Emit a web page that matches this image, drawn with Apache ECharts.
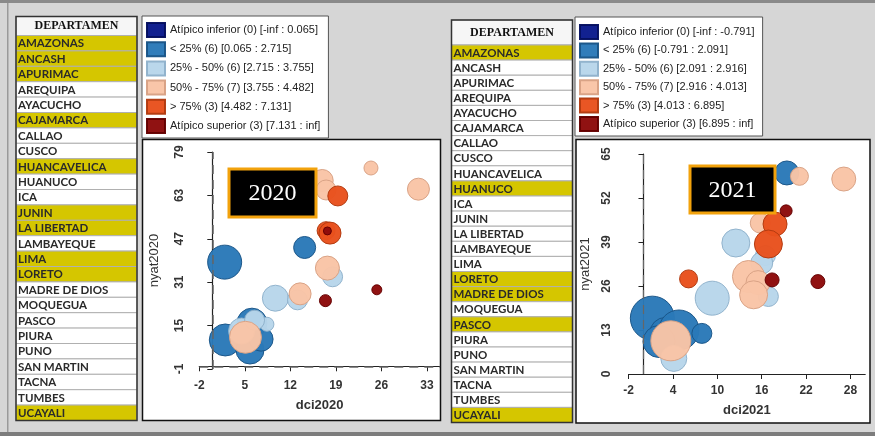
<!DOCTYPE html>
<html>
<head>
<meta charset="utf-8">
<script src="https://cdn.jsdelivr.net/npm/echarts@6/dist/echarts.min.js"></script>
<style>
  body { margin: 0; background: #d6d6d6; }
  #main { width: 875px; height: 436px; }
</style>
</head>
<body>
<div id="main"></div>
<script>
  // departamentos (tabla de la izquierda de cada panel)
  var departamentos = ['AMAZONAS', 'ANCASH', 'APURIMAC', 'AREQUIPA', 'AYACUCHO', 'CAJAMARCA', 'CALLAO',
    'CUSCO', 'HUANCAVELICA', 'HUANUCO', 'ICA', 'JUNIN', 'LA LIBERTAD', 'LAMBAYEQUE', 'LIMA', 'LORETO',
    'MADRE DE DIOS', 'MOQUEGUA', 'PASCO', 'PIURA', 'PUNO', 'SAN MARTIN', 'TACNA', 'TUMBES', 'UCAYALI'];
  var resaltados2020 = ['AMAZONAS', 'ANCASH', 'APURIMAC', 'CAJAMARCA', 'HUANCAVELICA', 'JUNIN',
    'LA LIBERTAD', 'LIMA', 'LORETO', 'UCAYALI'];
  var resaltados2021 = ['AMAZONAS', 'HUANUCO', 'LORETO', 'MADRE DE DIOS', 'PASCO', 'UCAYALI'];

  // clases del mapa de cajas
  var clases2020 = ['Atípico inferior (0) [-inf : 0.065]', '< 25% (6) [0.065 : 2.715]',
    '25% - 50% (6) [2.715 : 3.755]', '50% - 75% (7) [3.755 : 4.482]',
    '> 75% (3) [4.482 : 7.131]', 'Atípico superior (3) [7.131 : inf]'];
  var clases2021 = ['Atípico inferior (0) [-inf : -0.791]', '< 25% (6) [-0.791 : 2.091]',
    '25% - 50% (6) [2.091 : 2.916]', '50% - 75% (7) [2.916 : 4.013]',
    '> 75% (3) [4.013 : 6.895]', 'Atípico superior (3) [6.895 : inf]'];

  // puntos: [dci, nyat, peso]
  var atipInf2020 = [];
  var menos25_2020 = [[1.9, 38.4, 17], [14.2, 43.8, 11], [2.0, 9.7, 16], [6.1, 15.9, 15], [5.8, 6.0, 14], [7.5, 10.0, 12]];
  var q25_50_2020 = [[18.5, 33.0, 10], [9.7, 25.1, 13], [13.1, 24.5, 10], [8.4, 15.5, 7], [4.5, 13.0, 13], [6.5, 17.0, 10]];
  var q50_75_2020 = [[24.4, 73.1, 7], [31.7, 65.3, 11], [16.9, 68.5, 11], [17.5, 65.0, 10], [17.7, 36.2, 12], [13.5, 26.7, 11], [5.1, 10.7, 16]];
  var mas75_2020 = [[19.3, 62.8, 10], [17.5, 50.0, 9], [18.1, 49.1, 11]];
  var atipSup2020 = [[17.7, 49.9, 4], [25.3, 28.2, 5], [17.4, 24.2, 6]];

  var atipInf2021 = [];
  var menos25_2021 = [[19.4, 59.4, 12], [1.2, 16.5, 22], [3.0, 12.0, 16], [4.8, 13.0, 20], [7.9, 12.0, 10], [2.1, 9.6, 16]];
  var q25_50_2021 = [[12.5, 38.7, 14], [16.5, 35.0, 10], [16.0, 32.8, 11], [16.9, 22.9, 10], [9.3, 22.4, 17], [4.1, 4.6, 13]];
  var q50_75_2021 = [[21.1, 58.4, 9], [27.1, 57.6, 12], [15.8, 44.6, 10], [14.2, 28.8, 16], [15.5, 27.0, 12], [14.9, 23.4, 14], [3.7, 9.8, 20]];
  var mas75_2021 = [[17.8, 44.3, 12], [16.9, 38.4, 14], [6.1, 28.1, 9]];
  var atipSup2021 = [[19.3, 48.2, 6], [17.4, 27.8, 7], [23.6, 27.3, 7]];

  // ticks
  var ticksX2020 = [-2, 5, 12, 19, 26, 33];
  var ticksY2020 = [-1, 15, 31, 47, 63, 79];
  var ticksX2021 = [-2, 4, 10, 16, 22, 28];
  var ticksY2021 = [0, 13, 26, 39, 52, 65];

  var colores = ['#0a1a8c', '#2a79b8', '#b8d6ea', '#f9c4a6', '#e8511d', '#8c0a0a'];
  var bordes = ['#051060', '#1a5587', '#8fb2cb', '#d8a184', '#b23a10', '#640000'];

  var chart = echarts.init(document.getElementById('main'));

  function tabla(x, top, headH, rowH, resaltados) {
    var els = [];
    var w = 121;
    els.push({type: 'rect', shape: {x: x, y: top, width: w, height: headH},
      style: {fill: '#f6f6f6', stroke: '#999', lineWidth: 1}});
    els.push({type: 'text', x: x + w / 2, y: top + headH / 2,
      style: {text: 'DEPARTAMEN', font: 'bold 12px "Liberation Serif"', fill: '#111',
        textAlign: 'center', textVerticalAlign: 'middle'}});
    departamentos.forEach(function (d, i) {
      var y = top + headH + i * rowH;
      var on = resaltados.indexOf(d) >= 0;
      els.push({type: 'rect', shape: {x: x, y: y, width: w, height: rowH},
        style: {fill: on ? '#d5c600' : '#ffffff', stroke: '#b0b0b0', lineWidth: 1}});
      els.push({type: 'text', x: x + 2, y: y + rowH / 2 + 0.5,
        style: {text: d, font: 'bold 11.5px Lato', fill: '#2a2a2a', textVerticalAlign: 'middle'}});
    });
    els.push({type: 'rect', shape: {x: x, y: top, width: w, height: headH + 25 * rowH},
      style: {fill: 'none', stroke: '#333', lineWidth: 1.5}});
    return els;
  }

  function cajaAnio(x, y, w, h, txt) {
    return [
      {type: 'rect', z: 100, shape: {x: x, y: y, width: w, height: h},
        style: {fill: '#000', stroke: '#f2a20c', lineWidth: 3}},
      {type: 'text', z: 101, x: x + w / 2, y: y + h / 2 + 1,
        style: {text: txt, font: '24px "Liberation Serif"', fill: '#fff',
          textAlign: 'center', textVerticalAlign: 'middle'}}
    ];
  }

  function ejeX(grid, min, max, ticks, nombre, gap) {
    return {
      type: 'value', gridIndex: grid, min: min, max: max,
      name: nombre, nameLocation: 'middle', nameGap: gap,
      nameTextStyle: {fontSize: 13, fontWeight: 'bold', color: '#333', fontFamily: 'Liberation Sans'},
      axisLine: {lineStyle: {color: '#222', width: 1.2}},
      axisTick: {show: true, length: 5, customValues: ticks, lineStyle: {color: '#222'}},
      axisLabel: {customValues: ticks, fontSize: 12, fontWeight: 'bold', color: '#333',
        fontFamily: 'Liberation Sans', margin: 11},
      splitLine: {show: false}
    };
  }

  function ejeY(grid, min, max, ticks, nombre, gap, margen) {
    return {
      type: 'value', gridIndex: grid, min: min, max: max,
      name: nombre, nameLocation: 'middle', nameGap: gap,
      nameTextStyle: {fontSize: 13, color: '#333', fontFamily: 'Liberation Sans'},
      axisLine: {show: true, lineStyle: {color: '#222', width: 1.2}},
      axisTick: {show: true, length: 5, customValues: ticks, lineStyle: {color: '#222'}},
      axisLabel: {customValues: ticks, rotate: 90, fontSize: 12, fontWeight: 'bold', color: '#333',
        fontFamily: 'Liberation Sans', margin: margen},
      splitLine: {show: false}
    };
  }

  var datos2020 = [atipInf2020, menos25_2020, q25_50_2020, q50_75_2020, mas75_2020, atipSup2020];
  var datos2021 = [atipInf2021, menos25_2021, q25_50_2021, q50_75_2021, mas75_2021, atipSup2021];

  var series = [];
  function agregarSeries(clases, datos, idx) {
    clases.forEach(function (c, i) {
      var s = {
        name: c, type: 'scatter', xAxisIndex: idx, yAxisIndex: idx,
        data: datos[i],
        symbolSize: function (d) { return d[2] * 2; },
        itemStyle: {color: colores[i], borderColor: bordes[i], borderWidth: 1, opacity: 0.97},
        emphasis: {disabled: true}
      };
      if (i === 0) {
        // líneas de referencia discontinuas
        s.markLine = {
          silent: true, symbol: 'none', label: {show: false},
          lineStyle: {color: '#666', type: [9, 6], width: idx === 0 ? 1.5 : 1.2},
          data: idx === 0 ? [{xAxis: 0}, {yAxis: 0}] : [{xAxis: 0}]
        };
      }
      series.push(s);
    });
  }
  agregarSeries(clases2020, datos2020, 0);
  agregarSeries(clases2021, datos2021, 1);

  var leyenda = {
    orient: 'vertical', itemWidth: 18, itemHeight: 14, icon: 'rect',
    backgroundColor: '#fff', borderColor: '#555', borderWidth: 1,
    textStyle: {fontSize: 11, lineHeight: 13, color: '#222', fontFamily: 'Liberation Sans'},
    selectedMode: false
  };

  var graficos = [
    // marco general
    {type: 'rect', z: -5, shape: {x: 0, y: 0, width: 875, height: 3}, style: {fill: '#8a8a8a'}},
    {type: 'rect', z: -5, shape: {x: 0, y: 432, width: 875, height: 4}, style: {fill: '#7c7c7c'}},
    {type: 'rect', z: -5, shape: {x: 7, y: 3, width: 1.5, height: 429}, style: {fill: '#9a9a9a'}},
    // áreas de los gráficos
    {type: 'rect', z: -1, shape: {x: 142.5, y: 139.5, width: 298, height: 281},
      style: {fill: '#fff', stroke: '#111', lineWidth: 1.5}},
    {type: 'rect', z: -1, shape: {x: 576, y: 139.5, width: 294, height: 283.5},
      style: {fill: '#fff', stroke: '#111', lineWidth: 1.5}}
  ].concat(tabla(16, 16.5, 19, 15.4, resaltados2020))
   .concat(tabla(451.5, 20, 25, 15.1, resaltados2021))
   .concat(cajaAnio(229, 169, 87, 48, '2020'))
   .concat(cajaAnio(690, 166, 85, 47, '2021'));

  var option = {
    backgroundColor: '#d6d6d6',
    animation: false,
    legend: [
      Object.assign({}, leyenda, {data: clases2020, left: 142, top: 16, itemGap: 3.2, padding: [6, 8, 4, 4]}),
      Object.assign({}, leyenda, {data: clases2021, left: 575, top: 17, itemGap: 2.4, padding: [7, 8, 4, 4]})
    ],
    grid: [
      {left: 199.3, top: 152, width: 240.6, height: 217},
      {left: 628.7, top: 154, width: 236.5, height: 220}
    ],
    xAxis: [
      ejeX(0, -2, 35, ticksX2020, 'dci2020', 30),
      ejeX(1, -2, 30, ticksX2021, 'dci2021', 30)
    ],
    yAxis: [
      ejeY(0, -1, 79, ticksY2020, 'nyat2020', 38, 14),
      ejeY(1, 0, 65, ticksY2021, 'nyat2021', 37, 16)
    ],
    graphic: {elements: graficos},
    series: series
  };
  chart.setOption(option);
</script>
</body>
</html>
